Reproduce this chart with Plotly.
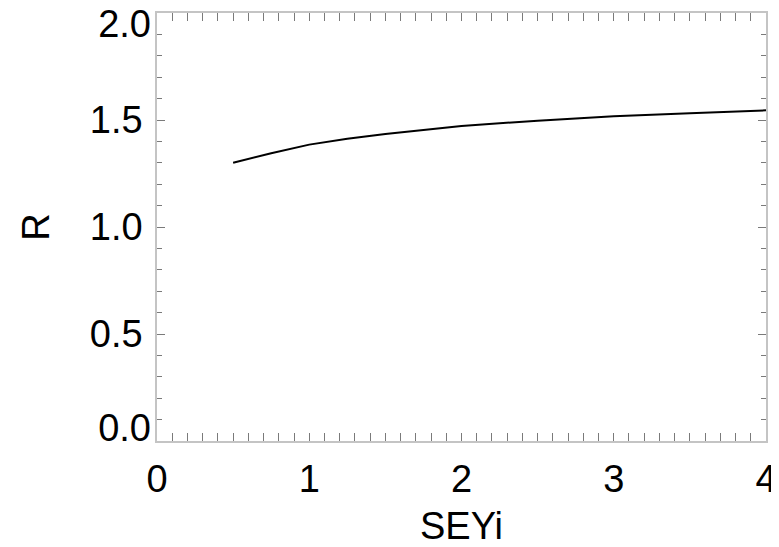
import plotly.graph_objects as go

# Data
sey_i = [0.5, 0.75, 1.0, 1.25, 1.5, 1.75, 2.0, 2.5, 3.0, 3.5, 4.0]
r_vals = [1.300, 1.345, 1.385, 1.412, 1.435, 1.455, 1.472, 1.497, 1.517, 1.532, 1.545]

x_tickvals = [0, 1, 2, 3, 4]
x_ticktext = ["0", "1", "2", "3", "4"]
y_tickvals_mid = [0.5, 1.0, 1.5]
y_ticktext_mid = ["0.5", "1.0", "1.5"]
y_top_val, y_top_text = [2.0], ["2.0"]
y_bot_val, y_bot_text = [0.0], ["0.0"]

FONT = "Liberation Sans, Arial, Helvetica, sans-serif"
FS = 38
AXCOL = "#c4c4c4"
TICKCOL = "#7a7a7a"
YSTAND = 5

fig = go.Figure()
fig.add_trace(go.Scatter(x=sey_i, y=r_vals, mode="lines",
                         line=dict(color="black", width=2), showlegend=False,
                         hoverinfo="skip"))
fig.add_trace(go.Scatter(x=[None], y=[None], yaxis="y2", showlegend=False))
fig.add_trace(go.Scatter(x=[None], y=[None], yaxis="y3", showlegend=False))

fig.update_layout(
    width=779, height=547,
    margin=dict(l=149, r=21, t=5, b=114),
    paper_bgcolor="white", plot_bgcolor="white",
    font=dict(family=FONT, size=FS, color="black"),
    xaxis=dict(
        range=[0, 4], showgrid=False, zeroline=False, automargin=False,
        showline=True, linecolor=AXCOL, linewidth=1.5, mirror="allticks",
        ticks="inside", ticklen=8, tickcolor=TICKCOL, tickwidth=1,
        tickvals=x_tickvals, ticktext=x_ticktext,
        tickfont=dict(size=FS), ticklabelstandoff=4, ticklabeloverflow="allow",
        minor=dict(dtick=0.1, ticks="inside", ticklen=4, tickcolor=TICKCOL, showgrid=False),
        title=dict(text="SEYi", font=dict(size=FS), standoff=13),
    ),
    yaxis=dict(
        range=[0, 2], showgrid=False, zeroline=False, automargin=False,
        showline=True, linecolor=AXCOL, linewidth=1.5, mirror="allticks",
        ticks="inside", ticklen=8, tickcolor=TICKCOL, tickwidth=1,
        tickvals=y_tickvals_mid, ticktext=y_ticktext_mid,
        tickfont=dict(size=FS), ticklabelstandoff=YSTAND,
        minor=dict(dtick=0.1, ticks="inside", ticklen=5, tickcolor=TICKCOL, showgrid=False),
        title=dict(text="R", font=dict(size=FS), standoff=29),
    ),
    yaxis2=dict(
        overlaying="y", matches="y", side="left", showgrid=False, zeroline=False,
        automargin=False, showline=False, ticks="", tickvals=y_top_val,
        ticktext=y_top_text, tickfont=dict(size=FS), ticklabelshift=11,
        ticklabelstandoff=YSTAND, ticklabeloverflow="allow",
    ),
    yaxis3=dict(
        overlaying="y", matches="y", side="left", showgrid=False, zeroline=False,
        automargin=False, showline=False, ticks="", tickvals=y_bot_val,
        ticktext=y_bot_text, tickfont=dict(size=FS), ticklabelshift=-13,
        ticklabelstandoff=YSTAND, ticklabeloverflow="allow",
    ),
)

fig.write_html("out.html")
